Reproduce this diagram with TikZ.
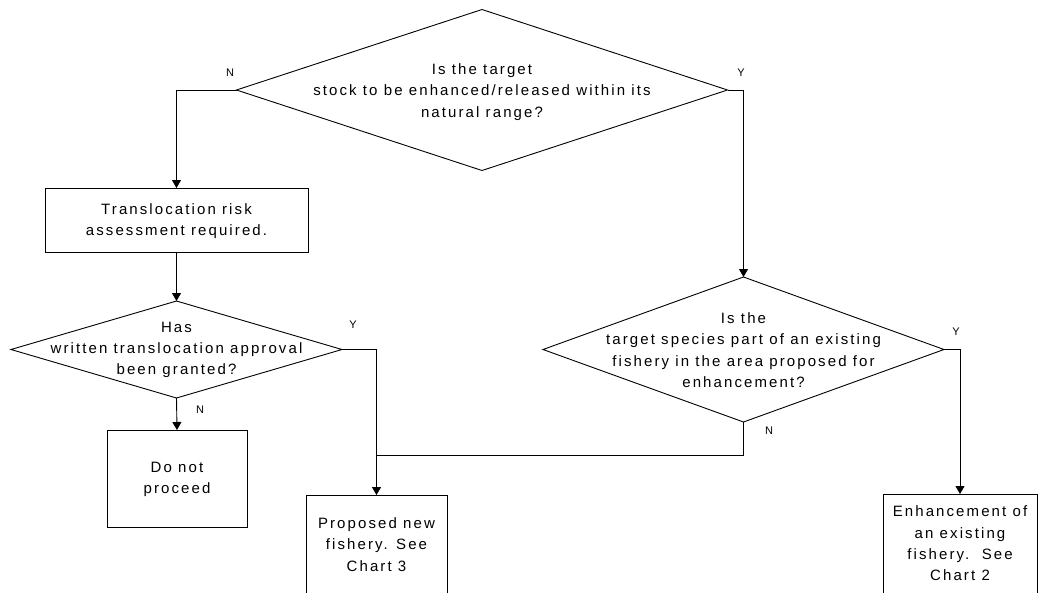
\documentclass[tikz,border=0pt]{standalone}
\usepackage{fontspec}
\setmainfont{Liberation Sans}
\newfontfamily\spaced{Liberation Sans}[LetterSpace=14]
\usetikzlibrary{shapes.geometric,arrows.meta}
\begin{document}
\begin{tikzpicture}[x=1pt,y=-1pt,
  dia/.style={draw,shape=diamond,inner sep=0pt,outer sep=0pt,line width=0.9pt},
  boxn/.style={draw,rectangle,inner sep=0pt,outer sep=0pt,line width=0.9pt},
  txt/.style={align=center,inner sep=0pt,font=\spaced\fontsize{15}{21.3}\selectfont},
  lbl/.style={inner sep=0pt,font=\fontsize{11}{12}\selectfont},
  arr/.style={line width=0.9pt,-{Triangle[length=8pt,width=9pt]}},
  ln/.style={line width=0.9pt}]
\clip (0,0) rectangle (1040,592);
\fill[white] (0,0) rectangle (1040,592);
% shapes
\node[dia,minimum width=491pt,minimum height=161pt] (d1) at (482,90) {};
\node[txt] (d1t) at (482,92) {Is the target\\stock to be enhanced/released within its\\natural range?};
\node[boxn,minimum width=263pt,minimum height=64pt] (b1) at (176.5,220) {};
\node[txt] (b1t) at (176.5,221) {Translocation risk\\assessment required.};
\node[dia,minimum width=331pt,minimum height=97pt] (d2) at (176.5,349.5) {};
\node[txt] (d2t) at (176.5,350) {Has\\written translocation approval\\been granted?};
\node[boxn,minimum width=140pt,minimum height=97pt] (b2) at (177,478.5) {};
\node[txt] (b2t) at (177,479.5) {Do not\\proceed};
\node[dia,minimum width=401pt,minimum height=145pt] (d3) at (743.5,349.5) {};
\node[txt] (d3t) at (743.5,350) {Is the\\target species part of an existing\\fishery in the area proposed for\\enhancement?};
\node[boxn,minimum width=141pt,minimum height=125pt] (p) at (376.5,557.5) {};
\node[txt] (pt) at (376.5,544.5) {Proposed new\\fishery. See\\Chart 3};
\node[boxn,minimum width=154pt,minimum height=126pt] (e) at (960,557) {};
\node[txt] (et) at (960,543.5) {Enhancement of\\an existing\\fishery.\ \ See\\Chart 2};
% connectors
\draw[arr] (d1.west) -| (b1.north);
\draw[arr] (d1.east) -| (d3.north);
\draw[arr] (b1.south) -- (d2.north);
\draw[arr] (d2.south) -- (b2.north);
\draw[arr] (d2.east) -| (p.north);
\coordinate (j) at (p.north |- 0,455);
\draw[ln] (d3.south) |- (j);
\draw[arr] (d3.east) -| (e.north);
% labels
\node[lbl] (n1) at (230,73) {N};
\node[lbl] (y1) at (741,73) {Y};
\node[lbl] (y2) at (353,325) {Y};
\node[lbl] (n2) at (200,410) {N};
\node[lbl] (y3) at (956,332) {Y};
\node[lbl] (n3) at (769,431) {N};
\end{tikzpicture}
\end{document}
